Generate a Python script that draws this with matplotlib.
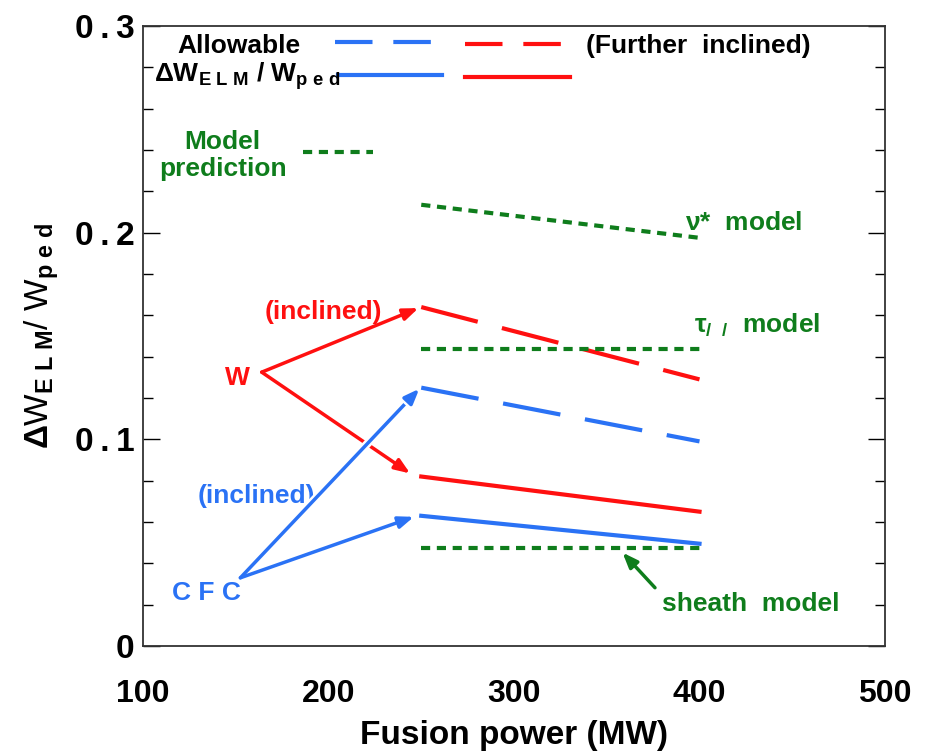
import matplotlib.pyplot as plt
import matplotlib.patheffects as pe

plt.rcParams['font.family'] = ['Liberation Sans', 'DejaVu Sans']
plt.rcParams['font.weight'] = 'bold'
plt.rcParams['mathtext.fontset'] = 'custom'
plt.rcParams['mathtext.rm'] = 'Liberation Sans:bold'
plt.rcParams['mathtext.bf'] = 'Liberation Sans:bold'
plt.rcParams['mathtext.it'] = 'Liberation Sans:bold'

# data
power = [250, 400]
cfc_inclined = [0.125, 0.099]      # blue dashed (allowable, inclined)
w_inclined = [0.164, 0.129]        # red dashed
w_normal = [0.082, 0.065]          # red solid
cfc_normal = [0.063, 0.0495]       # blue solid
nu_model = [0.2135, 0.1975]
tau_model = [0.1435, 0.1435]
sheath_model = [0.0475, 0.0475]

xticks = [100, 200, 300, 400, 500]
yticks = [0, 0.1, 0.2, 0.3]
yticklabels = ['0', '0\u2009.\u20091', '0\u2009.\u20092', '0\u2009.\u20093']

blue = '#2a72f5'
red = '#ff1010'
green = '#0f7d1c'

fig = plt.figure(figsize=(9.27, 7.55), dpi=100)
ax = fig.add_axes([143/927, 1 - 646/755, (885-143)/927, (646-26)/755])

ax.plot(power, cfc_inclined, color=blue, lw=3, dashes=(14, 6))
ax.plot(power, w_inclined, color=red, lw=3, dashes=(14, 6))
ax.plot(power, w_normal, color=red, lw=3)
ax.plot(power, cfc_normal, color=blue, lw=3)
for m in (nu_model, tau_model, sheath_model):
    ax.plot(power, m, color=green, lw=3, dashes=(2.2, 1.6))

# legend-like key
ax.plot([203.5, 258.5], [0.2925, 0.2925], color=blue, lw=3, dashes=(9, 5))
ax.plot([273.5, 328.5], [0.2915, 0.2915], color=red, lw=3, dashes=(9, 5))
ax.plot([205, 261], [0.2765, 0.2765], color=blue, lw=3)
ax.plot([273.5, 330], [0.2755, 0.2755], color=red, lw=3)
ax.plot([186, 224], [0.239, 0.239], color=green, lw=3, dashes=(2.2, 1.6))

fs = 19
ax.text(185, 0.2905, 'Allowable', fontsize=fs, ha='right', va='center')
ax.text(106, 0.2755, r'$\Delta$W$_{\rm E\ L\ M}$ / W$_{\rm p\ e\ d}$', fontsize=fs,
        ha='left', va='center')
ax.text(339, 0.2905, '(Further  inclined)', fontsize=fs, ha='left', va='center')
ax.text(143, 0.2375, 'Model\nprediction', fontsize=fs, color=green, ha='center',
        va='center', linespacing=1.15)
ax.text(392, 0.2045, r'$\nu$*  model', fontsize=fs, color=green, ha='left', va='center')
ax.text(397, 0.1555, r'$\tau_{/\ \ /}$  model', fontsize=fs, color=green, ha='left', va='center')
ax.text(380, 0.0205, 'sheath  model', fontsize=fs, color=green, ha='left', va='center')

ax.text(151, 0.1295, 'W', fontsize=fs, color=red, ha='center', va='center')
ax.text(197, 0.1615, '(inclined)', fontsize=fs, color=red, ha='center', va='center')
ax.text(134, 0.0255, 'C F C', fontsize=fs, color=blue, ha='center', va='center')
ax.text(161, 0.0725, '(inclined)', fontsize=fs, color=blue, ha='center', va='center')

arrow = dict(arrowstyle='-|>,head_length=0.9,head_width=0.35', lw=2.5, shrinkA=0, shrinkB=0)
ax.annotate('', xy=(248.5, 0.1635), xytext=(164, 0.1325), arrowprops=dict(arrow, color=red))
ax.annotate('', xy=(244, 0.0835), xytext=(164, 0.1325), arrowprops=dict(arrow, color=red))
ax.annotate('', xy=(249, 0.1245), xytext=(152.5, 0.033),
            arrowprops=dict(arrow, color=blue,
                            path_effects=[pe.withStroke(linewidth=6, foreground='white')]))
ax.annotate('', xy=(246, 0.0625), xytext=(152.5, 0.033), arrowprops=dict(arrow, color=blue))
ax.annotate('', xy=(358.5, 0.0452), xytext=(376, 0.0282), arrowprops=dict(arrow, color=green))

ax.set_xlim(100, 500)
ax.set_ylim(0, 0.3)
ax.set_xticks(xticks)
ax.set_yticks(yticks)
ax.set_yticklabels(yticklabels)
ax.set_yticks([i * 0.02 for i in range(16)], minor=True)
ax.tick_params(axis='y', which='both', direction='in', left=True, right=True,
               labelsize=24, pad=6, width=1)
ax.tick_params(axis='y', which='major', length=12)
ax.tick_params(axis='y', which='minor', length=7)
ax.tick_params(axis='x', length=0, labelsize=23, pad=24)
for lab in ax.get_xticklabels() + ax.get_yticklabels():
    lab.set_fontweight('bold')
for s in ax.spines.values():
    s.set_linewidth(1.3)
    s.set_color('#333333')

ax.set_xlabel('Fusion power (MW)', fontsize=24, fontweight='bold', labelpad=8)
ax.set_ylabel(r'$\Delta$W$_{\rm E\ L\ M}$/ W$_{\rm p\ e\ d}$', fontsize=24, labelpad=10)

fig.savefig('out.png', dpi=100)
